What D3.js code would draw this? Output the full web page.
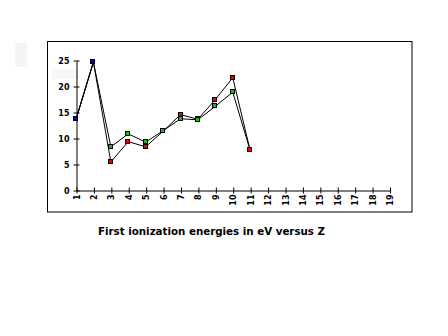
<!DOCTYPE html>
<html>
<head>
<meta charset="utf-8">
<script src="https://cdn.jsdelivr.net/npm/d3@7"></script>
<style>
  html, body { margin: 0; padding: 0; background: #fff; }
  svg { display: block; }
</style>
</head>
<body>
<svg id="chart" width="448" height="336"></svg>
<script>
// Atomic number categories on the x axis
const zTicks = [1, 2, 3, 4, 5, 6, 7, 8, 9, 10, 11, 12, 13, 14, 15, 16, 17, 18, 19];
const yTicks = [0, 5, 10, 15, 20, 25];

// H and He
const zHydrogenHelium = [1, 2];
const eHydrogenHelium = [13.6, 24.6];

// Experimental first ionization energies (eV), Z = 1..11
const zMeasured = [1, 2, 3, 4, 5, 6, 7, 8, 9, 10, 11];
const eMeasured = [13.6, 24.6, 5.4, 9.3, 8.3, 11.3, 14.5, 13.6, 17.4, 21.6, 7.6];

// Estimated first ionization energies (eV), Z = 1..11
const zEstimated = [1, 2, 3, 4, 5, 6, 7, 8, 9, 10, 11];
const eEstimated = [13.6, 24.6, 8.3, 10.8, 9.2, 11.4, 13.7, 13.5, 16.1, 18.8, 7.6];

const titleText = "First ionization energies in eV versus Z";

const colors = { blue: "#0000d4", red: "#dd0806", green: "#1fb714" };

const svg = d3.select("#chart");
const font = "'DejaVu Sans', 'Liberation Sans', sans-serif";

// plot frame
svg.append("rect")
  .attr("x", 47.5).attr("y", 41.5)
  .attr("width", 364.5).attr("height", 170.5)
  .attr("fill", "none").attr("stroke", "#000").attr("stroke-width", 1);

// faint ghost blocks
svg.append("rect").attr("x", 15).attr("y", 43).attr("width", 12).attr("height", 24).attr("fill", "#f5f5f5");
svg.append("rect").attr("x", 52).attr("y", 69).attr("width", 27).attr("height", 10).attr("fill", "#f7f7f7");

const x = d3.scaleLinear().domain([1, 19]).range([76, 389.5]);
const y = d3.scaleLinear().domain([0, 25]).range([190, 60]);

// y axis with ticks crossing the line
const yAxis = d3.axisLeft(y).tickValues(yTicks).tickSize(0).tickPadding(7).tickFormat(d3.format("d"));
const gy = svg.append("g").attr("transform", "translate(76.5,0.5)").call(yAxis);
gy.select(".domain").attr("stroke", "#000");
gy.selectAll(".tick line").attr("x1", -3).attr("x2", 3).attr("stroke", "#000");
gy.selectAll(".tick text")
  .attr("font-family", font).attr("font-size", 8).attr("font-weight", "bold").attr("fill", "#000");

// x axis with rotated labels
const xAxis = d3.axisBottom(x).tickValues(zTicks).tickSize(0).tickFormat(d3.format("d"));
const gx = svg.append("g").attr("transform", "translate(0.5,190.5)").call(xAxis);
gx.select(".domain").attr("stroke", "#000");
gx.selectAll(".tick line").attr("y1", -3).attr("y2", 3).attr("stroke", "#000");
gx.selectAll(".tick text")
  .attr("font-family", font).attr("font-size", 8).attr("font-weight", "bold").attr("fill", "#000")
  .attr("text-anchor", "end")
  .attr("dy", "0.32em")
  .attr("transform", "translate(0,4) rotate(-90)")
  .attr("x", 0).attr("y", 0);

const line = d3.line().x(d => x(d[0])).y(d => y(d[1]));

function series(zs, es) { return zs.map((z, i) => [z, es[i]]); }

const measured = series(zMeasured, eMeasured);
const estimated = series(zEstimated, eEstimated);
const hhe = series(zHydrogenHelium, eHydrogenHelium);

[measured, estimated, hhe].forEach(data => {
  svg.append("path").datum(data)
    .attr("d", line)
    .attr("fill", "none").attr("stroke", "#000").attr("stroke-width", 1);
});

function markers(data, color) {
  svg.append("g").selectAll("rect").data(data).join("rect")
    .attr("x", d => Math.round(x(d[0])) - 2.5)
    .attr("y", d => Math.round(y(d[1])) - 2.5)
    .attr("width", 4).attr("height", 4)
    .attr("fill", color).attr("stroke", "#000").attr("stroke-width", 1);
}
markers(measured.slice(2), colors.red);
markers(estimated.slice(2, 10), colors.green);
markers(hhe, colors.blue);

// title
const title = svg.append("text")
  .attr("x", 211.5).attr("y", 235)
  .attr("text-anchor", "middle")
  .attr("font-family", font).attr("font-size", 10).attr("font-weight", "bold")
  .attr("fill", "#000")
  .text(titleText);
title.attr("textLength", 227).attr("lengthAdjust", "spacingAndGlyphs");
</script>
</body>
</html>
